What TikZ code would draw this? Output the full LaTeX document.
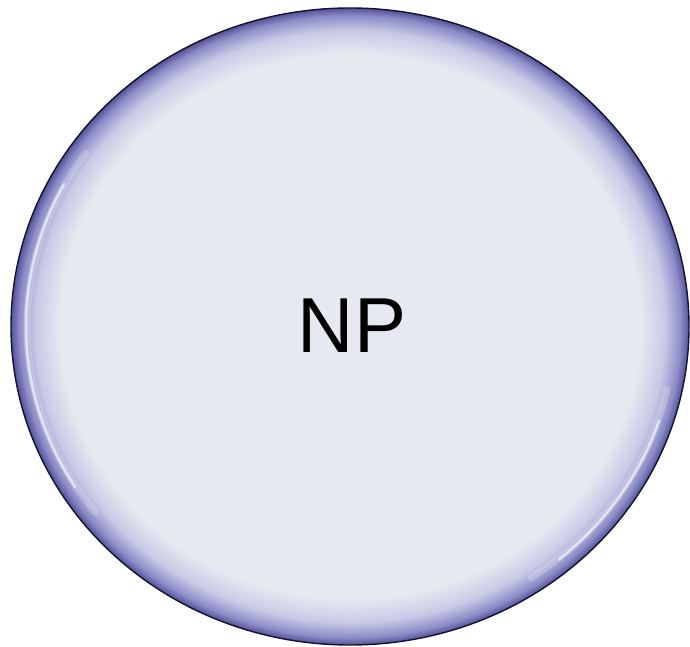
\documentclass[tikz,border=0pt]{standalone}
\usepackage{fontspec}
\setmainfont{Liberation Sans}
\definecolor{npinner}{RGB}{230,233,240}
\definecolor{npmid}{RGB}{200,202,230}
\definecolor{npmid2}{RGB}{140,140,200}
\definecolor{nprim}{RGB}{84,82,150}
\definecolor{npedge}{RGB}{20,18,50}
\pgfdeclareradialshading{nprimshade}{\pgfpoint{0bp}{0bp}}{%
  color(0bp)=(npinner);
  color(21.4bp)=(npinner);
  color(23.2bp)=(npmid);
  color(24.4bp)=(npmid2);
  color(25bp)=(nprim);
  color(50bp)=(nprim)}
\tikzset{
  setbox/.style={shading=nprimshade, draw=npedge, line width=1.4pt},
  glow/.style={draw=white, line cap=round, opacity=0.22, line width=7pt},
  highlight/.style={draw=white, line cap=round, opacity=0.6, line width=2.5pt},
  label/.style={font=\fontsize{78}{80}\selectfont, text=black, inner sep=0pt, anchor=base}
}
\begin{document}
\begin{tikzpicture}[x=1pt,y=1pt]
  \useasboundingbox (0,0) rectangle (690,647);
  \path[setbox] (350,320.5) ellipse [x radius=339, y radius=318.5];
  \coordinate (c) at (350,320.5);
  % soft highlights
  \draw[glow] (c) ++(145:{323} and {302}) arc [start angle=145, end angle=218, x radius=323, y radius=302];
  \draw[highlight] (c) ++(152:{324} and {303}) arc [start angle=152, end angle=212, x radius=324, y radius=303];
  \draw[glow] (c) ++(-12:{324} and {303}) arc [start angle=-12, end angle=-56, x radius=324, y radius=303];
  \draw[highlight] (c) ++(-18:{325} and {304}) arc [start angle=-18, end angle=-50, x radius=325, y radius=304];
  \node[label] (np) at (352,294) {NP};
\end{tikzpicture}
\end{document}
